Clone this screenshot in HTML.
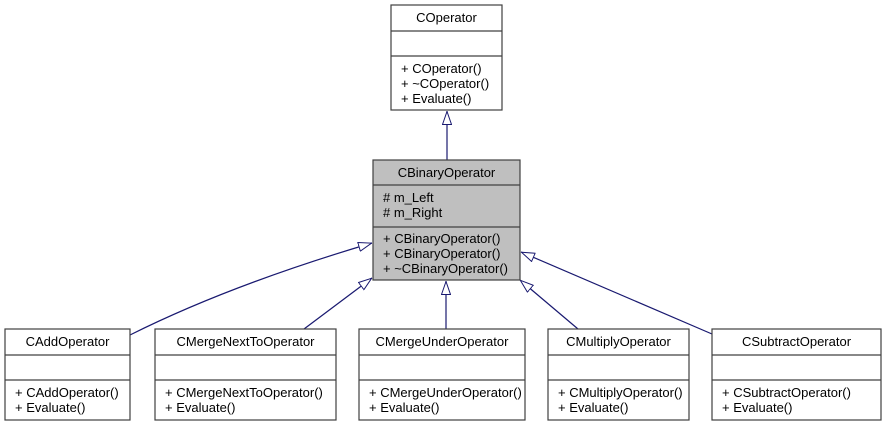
<!DOCTYPE html>
<html><head><meta charset="utf-8"><style>
html,body{margin:0;padding:0;background:#fff}
svg text{font-family:"Liberation Sans",Arial,sans-serif;font-size:13px;fill:#000}
</style></head><body>
<svg width="885" height="427" viewBox="0 0 885 427" xmlns="http://www.w3.org/2000/svg">
<defs>
<marker id="a" viewBox="0 0 14 10" refX="14" refY="5" markerWidth="14" markerHeight="10" markerUnits="userSpaceOnUse" orient="auto">
<path d="M0.5,0.5 L13.5,5 L0.5,9.5 Z" fill="#fff" stroke="#191970" stroke-width="1"/>
</marker>
</defs>
<g fill="none" stroke="#191970" stroke-width="1.2">
<path d="M447,160 L447,111" marker-end="url(#a)"/>
<path d="M130,335 Q230,285 372,243" marker-end="url(#a)"/>
<path d="M304,329 L372,278" marker-end="url(#a)"/>
<path d="M446,329 L446,281" marker-end="url(#a)"/>
<path d="M578,329 L520,280" marker-end="url(#a)"/>
<path d="M712,334 L521,252" marker-end="url(#a)"/>
</g>
<g stroke="#404040" stroke-width="1.2">
<rect x="391" y="5" width="111" height="105" fill="#fff"/>
<line x1="391" y1="31" x2="502" y2="31"/><line x1="391" y1="56" x2="502" y2="56"/>
<rect x="373" y="160" width="147" height="120" fill="#bfbfbf"/>
<line x1="373" y1="185" x2="520" y2="185"/><line x1="373" y1="227" x2="520" y2="227"/>
<rect x="5" y="329" width="125" height="91" fill="#fff"/>
<rect x="155" y="329" width="181" height="91" fill="#fff"/>
<rect x="359" y="329" width="166" height="91" fill="#fff"/>
<rect x="548" y="329" width="141" height="91" fill="#fff"/>
<rect x="712" y="329" width="169" height="91" fill="#fff"/>
<path d="M5,355H130M5,380H130M155,355H336M155,380H336M359,355H525M359,380H525M548,355H689M548,380H689M712,355H881M712,380H881"/>
</g>
<text x="446.5" y="22" text-anchor="middle">COperator</text>
<text x="401" y="73">+ COperator()</text>
<text x="401" y="88">+ ~COperator()</text>
<text x="401" y="103">+ Evaluate()</text>
<text x="446.5" y="177" text-anchor="middle">CBinaryOperator</text>
<text x="383" y="202"># m_Left</text>
<text x="383" y="217"># m_Right</text>
<text x="383" y="243">+ CBinaryOperator()</text>
<text x="383" y="258">+ CBinaryOperator()</text>
<text x="383" y="273">+ ~CBinaryOperator()</text>
<text x="67.5" y="346" text-anchor="middle">CAddOperator</text>
<text x="15" y="397">+ CAddOperator()</text><text x="15" y="412">+ Evaluate()</text>
<text x="245.5" y="346" text-anchor="middle">CMergeNextToOperator</text>
<text x="165" y="397">+ CMergeNextToOperator()</text><text x="165" y="412">+ Evaluate()</text>
<text x="442" y="346" text-anchor="middle">CMergeUnderOperator</text>
<text x="369" y="397">+ CMergeUnderOperator()</text><text x="369" y="412">+ Evaluate()</text>
<text x="618.5" y="346" text-anchor="middle">CMultiplyOperator</text>
<text x="558" y="397">+ CMultiplyOperator()</text><text x="558" y="412">+ Evaluate()</text>
<text x="796.5" y="346" text-anchor="middle">CSubtractOperator</text>
<text x="722" y="397">+ CSubtractOperator()</text><text x="722" y="412">+ Evaluate()</text>
</svg>
</body></html>
